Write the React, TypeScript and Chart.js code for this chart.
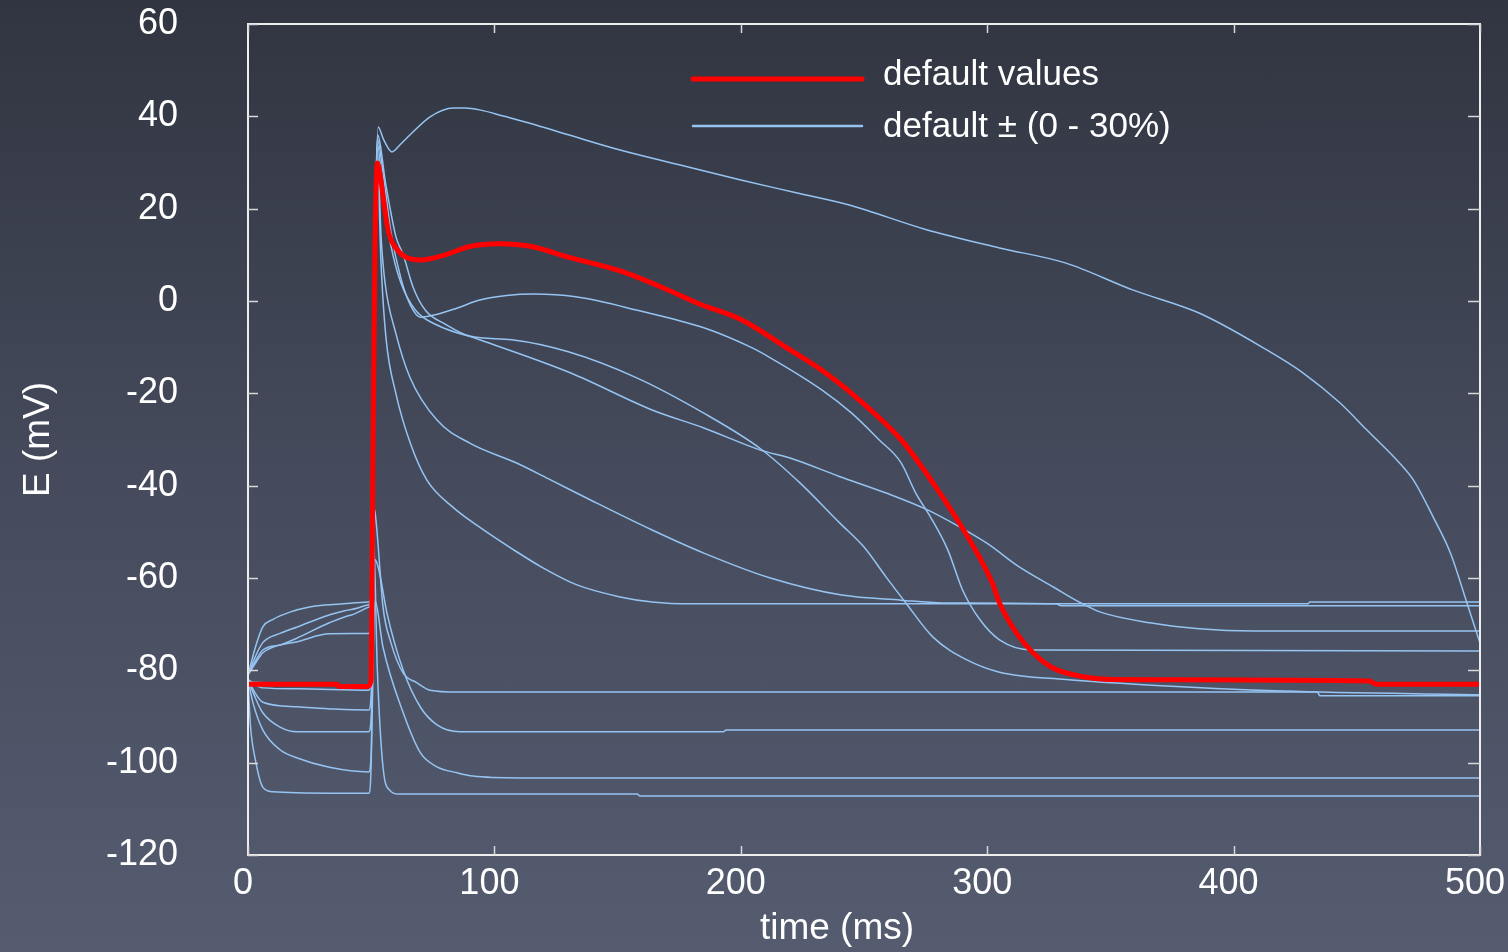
import React, { useEffect, useRef } from "react";
import { Chart, registerables } from "chart.js";

Chart.register(...registerables);

const FONT = "'Liberation Sans', Arial, Helvetica, sans-serif";

// axis ticks
const xTickValues = [0, 100, 200, 300, 400, 500];
const yTickValues = [-120, -100, -80, -60, -40, -20, 0, 20, 40, 60];
const xTitle = "time (ms)";
const yTitle = "E (mV)";
const legendLabels = ["default values", "default \u00b1 (0 - 30%)"];

// [time ms, E mV]
const defaultValues: [number, number][] = [
  [0, -83], [36, -83], [37, -83.5], [48.5, -83.5], [50, -82], [50.6, -40], [51.5, 10], [52.5, 29.9],
  [54, 26], [55, 21.9], [57, 15], [60, 11.5], [64, 9.5], [70, 8.9], [80, 10], [90, 11.8], [102, 12.4],
  [115, 11.8], [130, 9.5], [151, 6.5], [170, 2.5], [183, -0.6], [200, -4], [220, -10.6], [235, -15.8],
  [248, -21.4], [265, -30], [278, -39.4], [292, -51], [302, -61], [305, -65.4], [312, -72], [318.6, -76.2],
  [326.7, -79.5], [339, -81.4], [350, -82], [455, -82.3], [458, -83], [500, -83],
];

const variantTop: [number, number][] = [
  [0, -81], [3, -78.5], [6, -76.2], [10, -75], [20, -73.8], [33, -72.1], [49, -72], [50, -70], [51.5, 0],
  [52.8, 37.7], [55, 35], [58.4, 32.3], [62, 34], [65.8, 36], [73.9, 39.9], [83.3, 41.8], [88, 41.8],
  [94, 41.4], [104, 40], [114.4, 38.5], [130, 36], [151, 32.7], [175, 29.5], [200, 26.2], [222, 23.5],
  [244, 20.8], [275, 15.5], [305, 11.5], [332, 8.2], [359, 2.4], [386, -2.6], [413.5, -10.6], [428, -15.5],
  [443, -22], [454, -27.9], [467.5, -35.2], [473, -38.8], [481, -46.8], [488, -54.6], [494.7, -65.4], [500, -74.1],
];

const variantPlateau: [number, number][] = [
  [0, -82.5], [20, -83], [49, -83.3], [50, -78], [51.5, 10], [52.5, 35], [55, 27], [58, 15], [62, 5],
  [66, -1], [70, -3.5], [76, -3], [85, -1.5], [94, 0.2], [105, 1.2], [116, 1.5], [133, 0.9], [158, -2],
  [185, -5.8], [204, -10], [212, -12.3], [233, -19.3], [245, -24.3], [256, -30], [265, -35], [271, -41.6],
  [277, -46.8], [284, -53.9], [290, -62.6], [297, -69], [305, -73.4], [318, -75.6], [500, -75.8],
];

const variantLate: [number, number][] = [
  [0, -82], [6, -83.8], [20, -84], [49, -84.3], [50, -80], [51.5, 10], [52.5, 36], [56, 25], [60, 14],
  [63, 10], [67, 3], [72, -2], [80, -5], [90, -7.6], [107, -8.4], [130, -11], [158, -16.7], [185, -24.3],
  [208, -32], [224, -39.4], [240, -48], [250, -53.3], [259, -59.8], [267, -65.4], [278, -72.8], [292, -77.8],
  [305, -80.4], [332, -82], [360, -83], [420, -84.5], [500, -85.3],
];

const variantSlow: [number, number][] = [
  [0, -81], [3, -78], [6, -75.6], [13, -74.5], [20, -73], [33, -69.7], [42, -68], [49, -66.3], [50, -64],
  [51.5, 10], [52.5, 34], [55, 22], [58, 12], [62, 4], [68, -2], [76.7, -5.2], [94, -8.4], [131, -15.6],
  [164, -23.6], [185, -27.5], [208, -32.3], [220, -34], [240, -38], [259, -41.6], [276, -45.3], [289, -49],
  [300, -52.5], [313, -57.6], [327, -62], [338, -65.4], [346, -67.4], [366, -69.7], [386, -71], [408, -71.5],
  [500, -71.5],
];

const variantMid: [number, number][] = [
  [0, -81], [3, -77], [6, -74], [13, -72], [20, -70.6], [33, -68], [42, -66.8], [49, -65.8], [50, -64],
  [51.5, 10], [52.5, 33], [54, 14], [55.6, 4], [60, -7], [65.7, -16.5], [76.7, -25.8], [90, -30.8],
  [109, -35.1], [123, -38.8], [139, -43.1], [164, -49.6], [185, -54.6], [212, -60], [241, -63.7],
  [265, -64.8], [282, -65.4], [328, -65.6], [330, -66], [500, -66],
];

const variantShort: [number, number][] = [
  [0, -81], [3, -75], [6, -70.6], [10, -69], [17, -67.4], [25, -66.3], [33, -65.8], [49, -65.2], [50, -64],
  [51.5, 10], [52.5, 30], [54, 8], [56, -8], [60, -20], [66, -31], [72.6, -38.8], [83, -44.6], [94, -49],
  [107.5, -53.8], [119.7, -57.8], [133.5, -61.5], [151, -64.1], [164, -65.2], [180, -65.6], [430, -65.6],
  [431, -65.2], [500, -65.2],
];

const variantNoAP1: [number, number][] = [
  [0, -82], [3, -85], [6, -86.9], [20, -87.9], [35, -88.4], [49, -88.6], [50, -85], [51.3, -45],
  [52.3, -49.6], [54.8, -66.3], [58, -74], [63, -80.6], [68.6, -82.7], [73.9, -84.3], [85, -84.7],
  [434, -84.7], [435, -85.5], [500, -85.5],
];

const variantNoAP2: [number, number][] = [
  [0, -82], [3, -86], [6, -89.2], [13, -92.3], [20, -93.3], [49, -93.3], [50, -90], [51.5, -56], [53, -58],
  [56.4, -67.6], [63, -80], [70, -88], [76.7, -91.8], [86, -93.3], [193, -93.3], [194, -92.9], [500, -92.9],
];

const variantNoAP3: [number, number][] = [
  [0, -82], [2, -87], [6, -92.9], [13, -97.2], [20, -99], [33, -101], [49, -102], [50, -98], [51.5, -64.8],
  [54.8, -75], [63, -89.2], [70, -97.9], [76.7, -100.9], [85, -102.2], [91.3, -102.9], [110, -103.3],
  [500, -103.3],
];

const variantNoAP4: [number, number][] = [
  [0, -82], [1, -92], [3, -99.4], [6, -105.3], [10, -106.3], [33, -106.6], [49, -106.6], [50, -100],
  [51, -52], [52.5, -80], [54.8, -101], [57.6, -106], [61, -106.8], [158, -106.8], [159, -107.2], [500, -107.2],
];

const variants = [
  variantTop, variantPlateau, variantLate, variantSlow, variantMid, variantShort,
  variantNoAP1, variantNoAP2, variantNoAP3, variantNoAP4,
];

const RED = "#ff0000";
const BLUE = "#96c4f2";
const FRAME = "#eeeeee";

const toPts = (arr: [number, number][]) => arr.map(([x, y]) => ({ x, y }));

const decorPlugin = {
  id: "decor",
  afterDraw(chart: any) {
    const { ctx, chartArea: a, scales } = chart;
    const xs = scales.x;
    const ys = scales.y;
    ctx.save();
    // frame
    ctx.strokeStyle = FRAME;
    ctx.lineWidth = 2;
    ctx.strokeRect(a.left, a.top, a.right - a.left, a.bottom - a.top);
    // inner tick marks
    ctx.lineWidth = 1.5;
    ctx.strokeStyle = "#d8d8d8";
    ctx.beginPath();
    yTickValues.forEach((v) => {
      const py = Math.round(ys.getPixelForValue(v)) + 0.5;
      ctx.moveTo(a.left, py);
      ctx.lineTo(a.left + 10, py);
      ctx.moveTo(a.right - 12, py);
      ctx.lineTo(a.right, py);
    });
    xTickValues.forEach((v) => {
      const px = Math.round(xs.getPixelForValue(v)) + 0.5;
      ctx.moveTo(px, a.bottom);
      ctx.lineTo(px, a.bottom - 9);
      ctx.moveTo(px, a.top);
      ctx.lineTo(px, a.top + 9);
    });
    ctx.stroke();

    // legend
    const lx0 = a.left + 445;
    const lx1 = a.left + 614;
    const tx = a.left + 635;
    ctx.lineCap = "round";
    ctx.strokeStyle = RED;
    ctx.lineWidth = 5;
    ctx.beginPath();
    ctx.moveTo(lx0, a.top + 55);
    ctx.lineTo(lx1, a.top + 55);
    ctx.stroke();
    ctx.strokeStyle = BLUE;
    ctx.lineWidth = 2.5;
    ctx.beginPath();
    ctx.moveTo(lx0, a.top + 102);
    ctx.lineTo(lx1, a.top + 102);
    ctx.stroke();
    ctx.fillStyle = "#ffffff";
    ctx.font = `35px ${FONT}`;
    ctx.textAlign = "left";
    ctx.textBaseline = "alphabetic";
    ctx.fillText(legendLabels[0], tx, a.top + 61);
    ctx.fillText(legendLabels[1], tx, a.top + 113);

    // axis titles
    ctx.font = `37px ${FONT}`;
    ctx.textAlign = "center";
    ctx.fillText(xTitle, 837, 939);
    ctx.save();
    ctx.translate(49, (a.top + a.bottom) / 2);
    ctx.rotate(-Math.PI / 2);
    ctx.textAlign = "center";
    ctx.textBaseline = "alphabetic";
    ctx.fillText(yTitle, 0, 0);
    ctx.restore();
    ctx.restore();
  },
};

export default function App() {
  const ref = useRef<HTMLCanvasElement | null>(null);

  useEffect(() => {
    if (!ref.current) return;
    const datasets: any[] = [
      {
        label: legendLabels[0],
        data: toPts(defaultValues),
        borderColor: RED,
        borderWidth: 5,
        borderJoinStyle: "round",
        borderCapStyle: "round",
        pointRadius: 0,
        cubicInterpolationMode: "monotone",
      },
      ...variants.map((v, i) => ({
        label: i === 0 ? legendLabels[1] : `variant ${i}`,
        data: toPts(v),
        borderColor: BLUE,
        borderWidth: 1.5,
        pointRadius: 0,
        cubicInterpolationMode: "monotone",
      })),
    ];
    const chart = new Chart(ref.current, {
      type: "line",
      data: { datasets },
      plugins: [decorPlugin],
      options: {
        responsive: false,
        animation: false,
        devicePixelRatio: 1,
        layout: { padding: { top: 24, right: 28, left: 0, bottom: 0 } },
        plugins: { legend: { display: false }, tooltip: { enabled: false } },
        scales: {
          x: {
            type: "linear",
            min: 0,
            max: 500,
            afterBuildTicks: (s: any) => {
              s.ticks = xTickValues.map((value) => ({ value }));
            },
            afterFit: (s: any) => {
              s.height = 97;
              s.paddingLeft = 0;
              s.paddingRight = 0;
            },
            grid: { display: false, drawTicks: false },
            border: { display: false },
            ticks: {
              color: "#ffffff",
              font: { family: FONT, size: 36 },
              padding: 7,
              labelOffset: -5,
              maxRotation: 0,
              autoSkip: false,
            },
          },
          y: {
            type: "linear",
            min: -120,
            max: 60,
            afterBuildTicks: (s: any) => {
              s.ticks = yTickValues.map((value) => ({ value }));
            },
            afterFit: (s: any) => {
              s.width = 248;
              s.paddingTop = 0;
              s.paddingBottom = 0;
            },
            grid: { display: false, drawTicks: false },
            border: { display: false },
            ticks: {
              color: "#ffffff",
              font: { family: FONT, size: 36 },
              padding: 70,
              autoSkip: false,
            },
          },
        },
      },
    });
    return () => chart.destroy();
  }, []);

  return (
    <div
      style={{
        position: "fixed",
        left: 0,
        top: 0,
        width: 1508,
        height: 952,
        background: "linear-gradient(to bottom, #313541 0%, #454b5c 50%, #555c70 100%)",
      }}
    >
      <canvas ref={ref} width={1508} height={952} style={{ display: "block", width: 1508, height: 952 }} />
    </div>
  );
}
